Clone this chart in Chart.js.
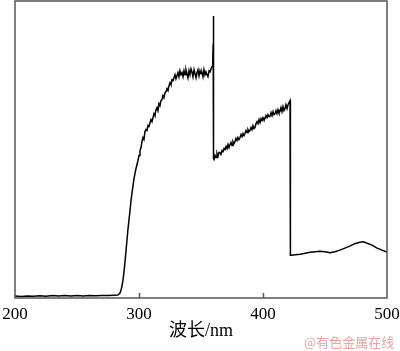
<!DOCTYPE html>
<html>
<head>
<meta charset="utf-8">
<script src="https://cdn.jsdelivr.net/npm/chart.js@4"></script>
<style>
  body { margin: 0; background: #fff; }
  #wrap { position: relative; width: 400px; height: 351px; }
  #mark { position: absolute; left: 304px; top: 332px; font: 13px "Noto Sans CJK SC", sans-serif; color: #eaa3a3; white-space: nowrap; }
</style>
</head>
<body>
<div id="wrap">
  <canvas id="chart" width="400" height="351"></canvas>
  <div id="mark">@有色金属在线</div>
</div>
<script>
// wavelength (nm) and absorbance (arbitrary units)
const wavelength = [
  200,205,210,215,220,225,230,235,240,245,250,255,260,265,270,275,280,283,
  284.7,285.5,286.3,287.3,288.3,289.5,290.3,291.1,291.9,292.7,293.5,294.3,295.2,296,296.8,297.6,298.4,299.2,
  300,300.8,301.6,302.4,303.2,304,304.8,305.6,306.4,307.2,308,308.9,309.7,310.5,311.3,312.1,312.9,
  313.7,314.5,315.3,316.1,316.9,317.7,318.5,319.3,320.1,321,321.8,322.6,323.4,324.2,325,325.8,
  326.6,327.4,328.2,329,329.8,330.6,331.4,332.2,333,333.9,334.7,335.5,336.3,337.1,337.9,338.7,
  339.5,340.3,341.1,341.9,342.7,343.5,344.4,345.2,346,346.8,347.6,348.4,349.2,350,350.8,351.6,
  352.4,353.2,354,354.8,355.6,356.5,357.3,358.1,358.9,359.5,359.8,360,360.2,
  360.5,361.3,362.1,362.9,363.7,364.5,365.3,366.1,367,367.8,368.6,369.4,370.2,371,371.8,372.6,
  373.4,374.2,375,375.8,376.6,377.4,378.2,379,379.8,380.6,381.5,382.3,383.1,383.9,384.7,385.5,
  386.3,387.1,387.9,388.7,389.5,390.3,391.1,391.9,392.7,393.5,394.4,395.2,396,396.8,397.6,398.4,
  399.2,400,400.8,401.6,402.4,403.2,404,404.8,405.6,406.5,407.3,408.1,408.9,409.7,410.5,411.3,
  412.1,412.9,413.7,414.5,415.3,416.1,416.9,417.7,418.5,419.4,420.2,421,421.8,422.1,
  422.6,426,430,434,437.9,442,446,450,454,458,462,466,470,474,478,481,484,488,492,496,500
];
const absorbance = [
  2,1.5,2,1.7,2.3,1.8,2.5,2,2.4,1.9,2.6,2.1,2.4,2.2,2.6,2.4,2.8,3,
  5,8,12,20,31,47,58,69,78,87,97,105,113,120,125,130,134,138,
  143,148,151,157,161,159,167,169,168,173,172,176,179,177,181,185,183,
  189,191,188,195,193,198,199,203,201,206,207,210,208,213,216,214,
  219,218,221,224,220,223,226,222,228,224,226,222,228,224,229,225,
  221,228,224,230,227,222,229,225,221,226,229,223,228,225,226,222,
  229,224,227,224,222,228,227,230,232,238,255,283,140,
  139,143,141,145,142,146,146,144,148,147,150,149,152,150,154,151,
  154,156,153,157,155,157,160,158,161,159,161,164,162,165,163,165,
  168,166,169,167,168,171,169,173,170,171,175,177,175,179,176,180,
  178,181,179,180,183,181,184,182,182,186,183,187,184,185,188,185,
  189,186,187,191,187,192,188,190,194,190,194,196,198,43,
  43,43.5,44,45,46,46.5,47,46.5,45.5,46.5,48,50,52,54.5,56,56.5,55,53,50,48,46
];
const xTicks = [200, 300, 400, 500];

const frame = {
  id: 'frame',
  afterDraw(chart) {
    const { ctx, chartArea: a } = chart;
    const x = chart.scales.x;
    ctx.save();
    ctx.strokeStyle = '#555';
    ctx.lineWidth = 1.5;
    ctx.strokeRect(a.left, a.top, a.right - a.left, a.bottom - a.top);
    ctx.beginPath();
    xTicks.slice(1, -1).forEach(t => {
      const px = Math.round(x.getPixelForValue(t)) + 0.5;
      ctx.moveTo(px, a.bottom);
      ctx.lineTo(px, a.bottom - 5);
    });
    ctx.stroke();
    ctx.restore();
  }
};

new Chart(document.getElementById('chart'), {
  type: 'line',
  data: {
    datasets: [{
      data: wavelength.map((w, i) => ({ x: w, y: absorbance[i] })),
      borderColor: '#000',
      borderWidth: 1.5,
      pointRadius: 0,
      tension: 0,
      fill: false,
    }],
  },
  options: {
    responsive: false,
    animation: false,
    layout: { padding: { left: 15, right: 13, top: 1, bottom: 9 } },
    plugins: { legend: { display: false }, tooltip: { enabled: false } },
    scales: {
      x: {
        type: 'linear',
        min: 200,
        max: 500,
        afterBuildTicks: (s) => { s.ticks = xTicks.map(v => ({ value: v })); },
        afterFit: (s) => { s.paddingLeft = 0; s.paddingRight = 0; s.height = 44; },
        grid: { display: false, drawTicks: false },
        border: { display: false },
        ticks: { color: '#000', padding: 8, maxRotation: 0, font: { family: '"Liberation Serif", serif', size: 17, lineHeight: 1 } },
        title: {
          display: true,
          text: '波长/nm',
          color: '#000',
          padding: { top: 0, bottom: 0 },
          font: { family: '"Liberation Serif", "Noto Sans CJK SC", serif', size: 18 },
        },
      },
      y: { display: false, min: 0, max: 298 },
    },
  },
  plugins: [frame],
});
</script>
</body>
</html>
